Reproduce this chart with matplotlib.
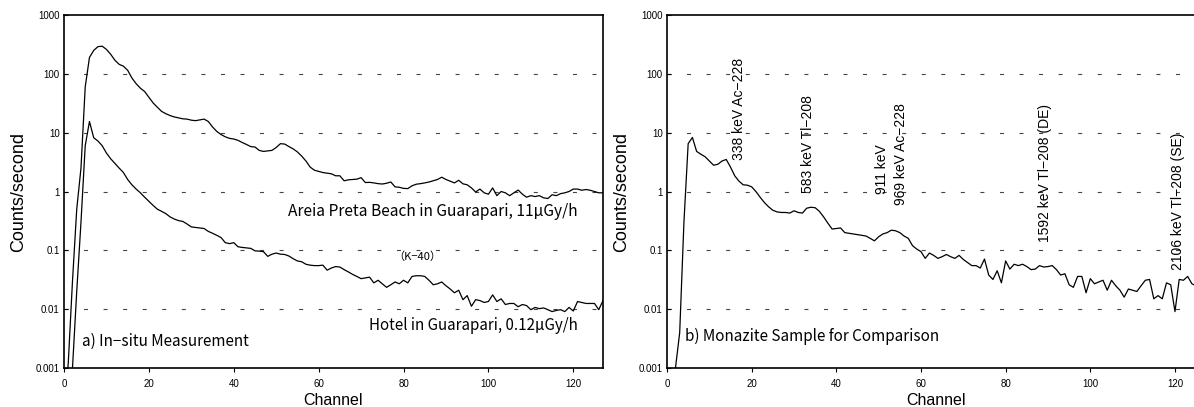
import matplotlib
matplotlib.use("Agg")
import matplotlib.pyplot as plt
import numpy as np

plt.rcParams['font.family'] = ['Liberation Sans', 'DejaVu Sans']
JP = ['Noto Sans CJK JP', 'DejaVu Sans']

# --------------------------- DATA ------------------------------#

channels = np.arange(128)

areia_preta = [
    0.0002, 0.0012, 0.03, 0.5, 2.5, 60, 190, 250, 290, 295,
    260, 215, 170, 145, 135, 115, 85, 68, 57, 50,
    40, 32, 27, 23, 21, 19.5, 18.5, 17.8, 17.2, 17,
    16.3, 16, 16.5, 17, 15.5, 12.5, 10.5, 9.3, 8.5, 8.0,
    7.8, 7.4, 6.8, 6.3, 5.8, 5.7, 5.0, 4.8, 4.9, 5.0,
    5.6, 6.5, 6.4, 5.8, 5.3, 4.7, 4.0, 3.3, 2.6, 2.3,
    2.2, 2.1, 2.05, 2.0, 1.85, 1.85, 1.52, 1.58, 1.6, 1.62,
    1.72, 1.42, 1.43, 1.4, 1.36, 1.34, 1.38, 1.45, 1.2, 1.18,
    1.13, 1.12, 1.25, 1.33, 1.36, 1.4, 1.45, 1.52, 1.6, 1.75,
    1.6, 1.5, 1.4, 1.55, 1.35, 1.3, 1.15, 0.98, 1.1, 0.95,
    0.9, 1.15, 0.85, 1.0, 0.95, 0.85, 0.95, 1.06, 0.9, 0.8,
    0.85, 0.82, 0.85, 0.78, 0.76, 0.88, 0.85, 0.92, 0.95, 1.0,
    1.1, 1.1, 1.05, 1.08, 1.05, 1.0, 0.95, 0.95,
]

hotel = [
    0.0001, 0.0002, 0.001, 0.02, 0.3, 6, 15.5, 8.2, 7.2, 6.0,
    4.5, 3.6, 3.0, 2.5, 2.1, 1.6, 1.3, 1.1, 0.95, 0.8,
    0.68, 0.58, 0.5, 0.46, 0.42, 0.37, 0.34, 0.32, 0.31, 0.28,
    0.25, 0.245, 0.24, 0.235, 0.21, 0.195, 0.18, 0.165, 0.135, 0.13,
    0.135, 0.115, 0.112, 0.11, 0.108, 0.098, 0.097, 0.095, 0.079, 0.086,
    0.09, 0.086, 0.085, 0.08, 0.072, 0.066, 0.064, 0.058, 0.056, 0.055,
    0.055, 0.056, 0.046, 0.05, 0.053, 0.052, 0.047, 0.043, 0.039, 0.036,
    0.033, 0.034, 0.035, 0.028, 0.031, 0.027, 0.0235, 0.026, 0.029, 0.027,
    0.031, 0.028, 0.036, 0.037, 0.037, 0.036, 0.031, 0.026, 0.027, 0.029,
    0.025, 0.022, 0.019, 0.021, 0.0145, 0.017, 0.0112, 0.0145, 0.014, 0.013,
    0.0135, 0.0175, 0.0135, 0.015, 0.012, 0.0125, 0.0125, 0.011, 0.012, 0.0115,
    0.0098, 0.0107, 0.0102, 0.0105, 0.0098, 0.0091, 0.0095, 0.0098, 0.0091, 0.0107,
    0.0093, 0.0135, 0.013, 0.0125, 0.0125, 0.0125, 0.0098, 0.014,
]

monazite = [
    0.00005, 0.0001, 0.001, 0.004, 0.3, 6.5, 8.3, 4.8, 4.3, 3.9,
    3.3, 2.8, 2.9, 3.3, 3.5, 2.6, 1.85, 1.5, 1.3, 1.28,
    1.2, 1.0, 0.8, 0.65, 0.55, 0.48, 0.45, 0.44, 0.44, 0.43,
    0.47, 0.44, 0.43, 0.52, 0.54, 0.53, 0.46, 0.37, 0.29, 0.23,
    0.235, 0.24, 0.2, 0.195, 0.19, 0.185, 0.18, 0.175, 0.16, 0.145,
    0.17, 0.19, 0.2, 0.22, 0.215, 0.2, 0.175, 0.16, 0.12, 0.105,
    0.095, 0.073, 0.09, 0.082, 0.073, 0.078, 0.085, 0.078, 0.073, 0.082,
    0.07, 0.062, 0.055, 0.055, 0.05, 0.071, 0.038, 0.032, 0.045, 0.028,
    0.066, 0.048, 0.058, 0.055, 0.058, 0.053, 0.047, 0.048, 0.055, 0.052,
    0.053, 0.055, 0.047, 0.038, 0.04, 0.026, 0.0235, 0.036, 0.036, 0.019,
    0.033, 0.027, 0.029, 0.031, 0.021, 0.031, 0.025, 0.021, 0.016, 0.022,
    0.021, 0.02, 0.025, 0.031, 0.032, 0.015, 0.017, 0.015, 0.028, 0.026,
    0.0091, 0.032, 0.031, 0.036, 0.027, 0.025, 0.023, 0.023,
]

ytick_vals = [0.001, 0.01, 0.1, 1, 10, 100, 1000]
ytick_labels = ["0.001", "0.01", "0.1", "1", "10", "100", "1000"]
xtick_vals = [0, 20, 40, 60, 80, 100, 120]

# peak labels: (text, channel, counts at bottom of text)
peak_labels = [
    ("338 keV Ac\u2212228", 17.0, 3.4),
    ("583 keV Tl\u2212208", 33.3, 0.94),
    ("911 keV", 50.8, 0.9),
    ("969 keV Ac\u2212228", 55.3, 0.59),
    ("1592 keV Tl\u2212208 (DE)", 89.3, 0.14),
    ("2106 keV Tl\u2212208 (SE)", 120.7, 0.047),
]

# --------------------------- PLOT ------------------------------#

fig = plt.figure(figsize=(11.94, 4.07), dpi=100)
ax1 = fig.add_axes([64 / 1194, 39 / 407, 539 / 1194, 353 / 407])
ax2 = fig.add_axes([667 / 1194, 39 / 407, 537.6 / 1194, 353 / 407])


def style_axes(ax):
    ax.set_yscale('log')
    ax.set_xlim(0, 127)
    ax.set_ylim(0.001, 1000)
    ax.set_yticks(ytick_vals)
    ax.set_yticklabels(ytick_labels)
    ax.set_xticks(xtick_vals)
    ax.minorticks_off()
    ax.tick_params(axis='x', direction='out', length=3, labelsize=7, pad=5)
    ax.tick_params(axis='y', direction='in', length=3, labelsize=7, pad=3)
    for g in ytick_vals[1:-1]:
        ax.axhline(g, color='#444444', lw=0.8, linestyle=(0, (3.6, 14)), zorder=1)
    for s in ax.spines.values():
        s.set_linewidth(1.2)
    ax.set_xlabel("Channel", fontsize=11.5, labelpad=3)
    ax.set_ylabel("Counts/second", fontsize=13, labelpad=6)


style_axes(ax1)
style_axes(ax2)

ax1.plot(channels, areia_preta, color='black', lw=0.9, zorder=3)
ax1.plot(channels, hotel, color='black', lw=0.9, zorder=3)
ax2.plot(channels, monazite, color='black', lw=0.9, zorder=3)

ax1.text(121, 0.45, "Areia Preta Beach in Guarapari, 11\u03bcGy/h",
         ha='right', va='center', fontsize=11.2, family=JP)
ax1.text(121, 0.0052, "Hotel in Guarapari, 0.12\u03bcGy/h",
         ha='right', va='center', fontsize=10.9, family=JP)
ax1.text(83.3, 0.078, "\uff08K\u221240\uff09", ha='center', va='center',
         fontsize=8, family=JP)
ax1.text(4.3, 0.0028, "a) In\u2212situ Measurement", ha='left', va='center',
         fontsize=11, family=JP)
ax2.text(4.3, 0.0034, "b) Monazite Sample for Comparison", ha='left',
         va='center', fontsize=11, family=JP)

for label, ch, y in peak_labels:
    ax2.text(ch, y, label, rotation=90, ha='center', va='bottom',
             fontsize=10)

fig.savefig("out.png", dpi=100)
